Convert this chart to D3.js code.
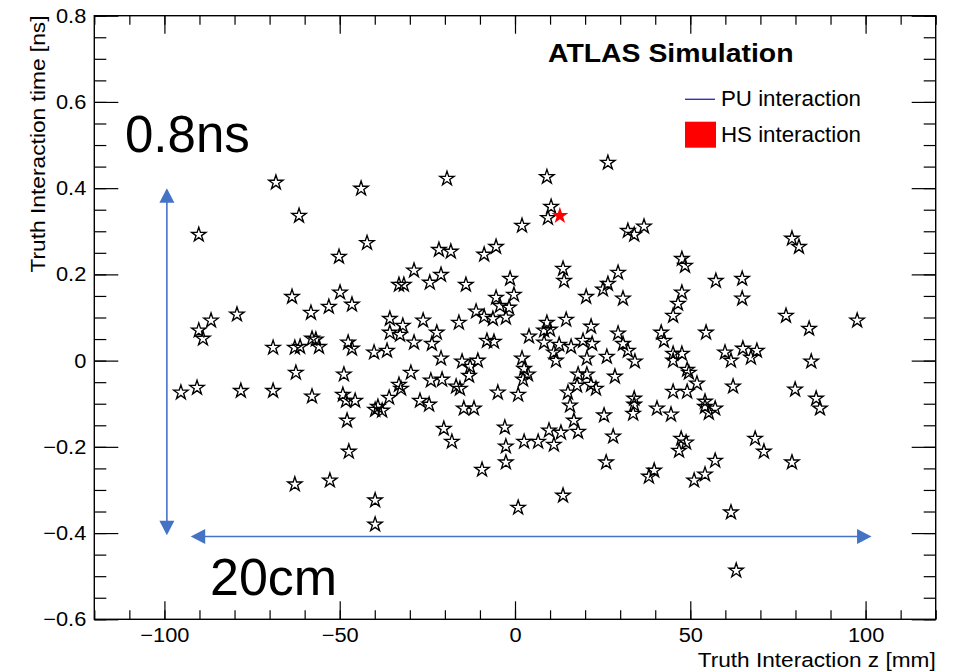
<!DOCTYPE html>
<html>
<head>
<meta charset="utf-8">
<script src="https://d3js.org/d3.v7.min.js"></script>
<style>
  body { margin: 0; background: #fff; }
  text { font-family: "Liberation Sans", Arial, Helvetica, sans-serif; }
</style>
</head>
<body>
<svg id="vis"></svg>
<script>
  // pile-up vertices: [z (mm), t (ns)]
  var puPoints = [
    [-68.2,0.413],[-43.9,0.399],[-19.4,0.422],[9.1,0.426],[26.5,0.459],
    [-61.6,0.336],[-90.2,0.292],[-42.2,0.273],[-50.2,0.241],[10.3,0.357],
    [9.4,0.331],[2.0,0.313],[32.2,0.301],[34.0,0.292],[36.8,0.311],
    [-21.7,0.257],[-18.3,0.253],[-5.4,0.264],[-8.8,0.246],[47.6,0.236],
    [48.5,0.220],[79.0,0.283],[81.0,0.264],[-28.8,0.209],[-33.1,0.176],
    [-31.7,0.176],[-24.3,0.181],[-21.1,0.199],[-14.0,0.176],[-1.4,0.190],
    [13.7,0.213],[14.0,0.185],[29.4,0.204],[26.5,0.178],[25.1,0.165],
    [20.3,0.148],[30.8,0.144],[57.3,0.185],[64.8,0.190],[64.8,0.144],
    [47.6,0.158],[46.5,0.132],[45.1,0.104],[-63.6,0.148],[-49.9,0.158],
    [-46.5,0.130],[-53.1,0.125],[-58.2,0.111],[-79.3,0.107],[-86.7,0.093],
    [-90.2,0.070],[-89.0,0.051],[-69.0,0.030],[-62.8,0.030],[-61.3,0.032],
    [-57.9,0.051],[-56.8,0.049],[-55.9,0.032],[-47.6,0.042],[-46.5,0.028],
    [-40.2,0.019],[-62.5,-0.028],[-48.8,-0.032],[-5.4,0.146],[-0.3,0.153],
    [-4.3,0.127],[-1.7,0.123],[-11.1,0.114],[-8.8,0.102],[-6.3,0.097],
    [-2.6,0.100],[-35.7,0.097],[-26.2,0.093],[-16.0,0.088],[-32.0,0.081],
    [-35.7,0.065],[-32.8,0.060],[-22.3,0.065],[-28.8,0.042],[-23.7,0.039],
    [-36.5,0.023],[-21.1,0.005],[-29.7,-0.028],[-15.1,-0.002],[-10.6,0.000],
    [-12.8,-0.014],[-8.0,0.046],[-6.0,0.044],[4.0,0.056],[9.1,0.088],
    [8.3,0.070],[10.0,0.072],[14.6,0.095],[8.3,0.042],[12.6,0.037],
    [16.0,0.032],[11.1,0.019],[11.7,0.000],[2.0,0.005],[2.6,-0.019],
    [3.7,-0.032],[19.4,0.046],[21.7,0.079],[22.0,0.039],[20.5,0.005],
    [26.2,0.009],[29.4,0.063],[30.8,0.039],[32.2,0.023],[34.2,-0.002],
    [18.0,-0.032],[20.5,-0.032],[28.5,-0.037],[-24.0,-0.046],[-20.8,-0.044],
    [-13.1,-0.035],[77.3,0.104],[83.9,0.074],[97.6,0.093],[41.7,0.065],
    [42.5,0.046],[54.5,0.065],[45.1,0.016],[45.1,0.000],[47.6,0.016],
    [59.9,0.019],[61.6,0.000],[65.0,0.028],[67.3,0.007],[69.0,0.023],
    [84.5,-0.002],[49.1,-0.021],[49.6,-0.028],[51.9,-0.053],[45.1,-0.072],
    [49.1,-0.072],[62.2,-0.060],[79.9,-0.067],[85.9,-0.088],[87.0,-0.111],
    [40.5,-0.111],[44.5,-0.125],[54.2,-0.095],[54.2,-0.107],[57.1,-0.111],
    [55.3,-0.121],[47.4,-0.181],[48.8,-0.190],[46.8,-0.209],[68.5,-0.181],
    [71.0,-0.211],[79.0,-0.236],[57.1,-0.232],[54.2,-0.264],[51.1,-0.278],
    [39.7,-0.255],[38.2,-0.269],[61.6,-0.352],[63.1,-0.487],[-95.3,-0.074],
    [-90.7,-0.063],[-78.2,-0.070],[-69.0,-0.070],[-57.9,-0.083],[-49.1,-0.079],
    [-48.2,-0.093],[-45.6,-0.093],[-39.9,-0.114],[-47.9,-0.139],[-47.4,-0.211],
    [-62.8,-0.287],[-52.8,-0.278],[-39.9,-0.324],[-39.9,-0.380],[-33.1,-0.056],
    [-32.5,-0.065],[-35.9,-0.086],[-39.1,-0.107],[-37.9,-0.116],[-27.1,-0.093],
    [-24.5,-0.102],[-16.8,-0.060],[-15.7,-0.065],[-14.6,-0.111],[-11.7,-0.111],
    [-4.9,-0.074],[0.9,-0.079],[2.3,-0.044],[-20.3,-0.158],[-18.0,-0.188],
    [-2.9,-0.155],[-2.6,-0.199],[-2.6,-0.236],[-9.4,-0.253],[2.6,-0.188],
    [6.6,-0.188],[9.7,-0.162],[13.1,-0.167],[11.1,-0.195],[21.7,-0.056],
    [23.1,-0.065],[17.7,-0.058],[15.1,-0.074],[15.7,-0.104],[16.8,-0.139],
    [18.0,-0.165],[25.4,-0.127],[28.0,-0.176],[26.0,-0.236],[34.0,-0.088],
    [34.0,-0.102],[33.7,-0.123],[13.7,-0.313],[0.9,-0.341]
  ];
  // hard-scatter vertex
  var hsPoints = [[12.8, 0.336]];

  var xTicks = [-100, -50, 0, 50, 100];
  var xMinor = d3.range(-120, 121, 10);
  var yTicks = [-0.6, -0.4, -0.2, 0, 0.2, 0.4, 0.6, 0.8];
  var yMinor = d3.range(-0.6, 0.801, 0.05);

  // annotation arrows in data units
  var arrowV = [[-99.3, 0.40], [-99.3, -0.405]];
  var arrowH = [[-92.5, -0.408], [101.7, -0.408]];

  var W = 954, H = 671;
  var svg = d3.select("#vis").attr("width", W).attr("height", H);

  var x = d3.scaleLinear().domain([-120, 120]).range([94.3, 935.7]);
  var y = d3.scaleLinear().domain([-0.6, 0.8]).range([619.3, 15.7]);

  var fmt = function(d) { return d === 0 ? "0" : d3.format(".1f")(d); };

  // the ROOT canvas was stretched sideways, so widen its labels a little
  function widen(sel, k) {
    sel.each(function() {
      var n = this.getComputedTextLength();
      if (n > 0) d3.select(this).attr("textLength", n * k).attr("lengthAdjust", "spacingAndGlyphs");
    });
  }

  function styleAxis(g) {
    g.select(".domain").remove();
    g.selectAll("line").attr("stroke", "#000").attr("stroke-width", 1.2);
    g.attr("font-family", "'Liberation Sans', Arial, sans-serif").attr("font-size", 20);
    g.selectAll("text").attr("fill", "#000").call(widen, 1.09);
  }

  // bottom
  svg.append("g").attr("transform", "translate(0,619.3)")
      .call(d3.axisBottom(x).tickValues(xMinor).tickSizeInner(-9).tickSizeOuter(0).tickFormat(""))
      .call(styleAxis);
  svg.append("g").attr("transform", "translate(0,619.3)")
      .call(d3.axisBottom(x).tickValues(xTicks).tickSizeInner(-18).tickSizeOuter(0).tickPadding(8.5).tickFormat(d3.format("d")))
      .call(styleAxis);
  // top
  svg.append("g").attr("transform", "translate(0,15.7)")
      .call(d3.axisTop(x).tickValues(xMinor).tickSizeInner(-9).tickSizeOuter(0).tickFormat(""))
      .call(styleAxis);
  svg.append("g").attr("transform", "translate(0,15.7)")
      .call(d3.axisTop(x).tickValues(xTicks).tickSizeInner(-18).tickSizeOuter(0).tickFormat(""))
      .call(styleAxis);
  // left
  svg.append("g").attr("transform", "translate(94.3,0)")
      .call(d3.axisLeft(y).tickValues(yMinor).tickSizeInner(-12).tickSizeOuter(0).tickFormat(""))
      .call(styleAxis);
  svg.append("g").attr("transform", "translate(94.3,0)")
      .call(d3.axisLeft(y).tickValues(yTicks).tickSizeInner(-24).tickSizeOuter(0).tickPadding(8).tickFormat(fmt))
      .call(styleAxis);
  // right
  svg.append("g").attr("transform", "translate(935.7,0)")
      .call(d3.axisRight(y).tickValues(yMinor).tickSizeInner(-12).tickSizeOuter(0).tickFormat(""))
      .call(styleAxis);
  svg.append("g").attr("transform", "translate(935.7,0)")
      .call(d3.axisRight(y).tickValues(yTicks).tickSizeInner(-24).tickSizeOuter(0).tickFormat(""))
      .call(styleAxis);

  // frame
  svg.append("rect")
      .attr("x", x(-120)).attr("y", y(0.8))
      .attr("width", x(120) - x(-120)).attr("height", y(-0.6) - y(0.8))
      .attr("fill", "none").attr("stroke", "#000").attr("stroke-width", 1.4);

  // axis titles
  svg.append("text")
      .attr("transform", "translate(45,15.5) rotate(-90)")
      .attr("text-anchor", "end")
      .attr("font-size", 20)
      .attr("textLength", 257).attr("lengthAdjust", "spacingAndGlyphs")
      .text("Truth Interaction time [ns]");
  svg.append("text")
      .attr("x", 935.7).attr("y", 667)
      .attr("text-anchor", "end")
      .attr("font-size", 20.5)
      .attr("textLength", 238).attr("lengthAdjust", "spacingAndGlyphs")
      .text("Truth Interaction z [mm]");

  // PU stars
  var star = d3.symbol().type(d3.symbolStar).size(64);
  svg.selectAll("path.pu")
      .data(puPoints)
      .enter().append("path")
      .attr("class", "pu")
      .attr("d", star)
      .attr("transform", function(d) { return "translate(" + x(d[0]) + "," + y(d[1]) + ")"; })
      .attr("fill", "none")
      .attr("stroke", "#000")
      .attr("stroke-width", 1.35);

  // HS star
  svg.selectAll("path.hs")
      .data(hsPoints)
      .enter().append("path")
      .attr("class", "hs")
      .attr("d", d3.symbol().type(d3.symbolStar).size(90))
      .attr("transform", function(d) { return "translate(" + x(d[0]) + "," + y(d[1]) + ")"; })
      .attr("fill", "#ff0000");

  // title + legend
  svg.append("text")
      .attr("x", 548).attr("y", 62)
      .attr("font-size", 26.5).attr("font-weight", "bold")
      .attr("textLength", 245.5).attr("lengthAdjust", "spacingAndGlyphs")
      .text("ATLAS Simulation");

  svg.append("line")
      .attr("x1", 685).attr("x2", 715).attr("y1", 99.3).attr("y2", 99.3)
      .attr("stroke", "#3333bb").attr("stroke-width", 1.4);
  svg.append("text")
      .attr("x", 721).attr("y", 106).attr("font-size", 21.5)
      .attr("textLength", 140).attr("lengthAdjust", "spacingAndGlyphs")
      .text("PU interaction");
  svg.append("rect")
      .attr("x", 685).attr("y", 121.7).attr("width", 31).attr("height", 26)
      .attr("fill", "#ff0000");
  svg.append("text")
      .attr("x", 721).attr("y", 141.5).attr("font-size", 21.5)
      .attr("textLength", 140).attr("lengthAdjust", "spacingAndGlyphs")
      .text("HS interaction");

  // annotation arrows
  var blue = "#4472c4";
  function arrow(p0, p1) {
    var a = [x(p0[0]), y(p0[1])], b = [x(p1[0]), y(p1[1])];
    var dx = b[0] - a[0], dy = b[1] - a[1], len = Math.sqrt(dx * dx + dy * dy);
    var ux = dx / len, uy = dy / len, hl = 14.5, hw = 7.5;
    svg.append("line")
        .attr("x1", a[0] + ux * hl * 0.8).attr("y1", a[1] + uy * hl * 0.8)
        .attr("x2", b[0] - ux * hl * 0.8).attr("y2", b[1] - uy * hl * 0.8)
        .attr("stroke", blue).attr("stroke-width", 1.6);
    [[a, -1], [b, 1]].forEach(function(e) {
      var tip = e[0], s = e[1];
      var bx = tip[0] - s * ux * hl, by = tip[1] - s * uy * hl;
      var pts = [tip, [bx - uy * hw, by + ux * hw], [bx + uy * hw, by - ux * hw]];
      svg.append("polygon").attr("points", pts.map(function(p) { return p.join(","); }).join(" "))
          .attr("fill", blue);
    });
  }
  arrow(arrowV[0], arrowV[1]);
  arrow(arrowH[0], arrowH[1]);

  svg.append("text")
      .attr("x", 125).attr("y", 151.5)
      .attr("font-size", 51)
      .text("0.8ns");
  svg.append("text")
      .attr("x", 210).attr("y", 595)
      .attr("font-size", 52)
      .text("20cm");
</script>
</body>
</html>
